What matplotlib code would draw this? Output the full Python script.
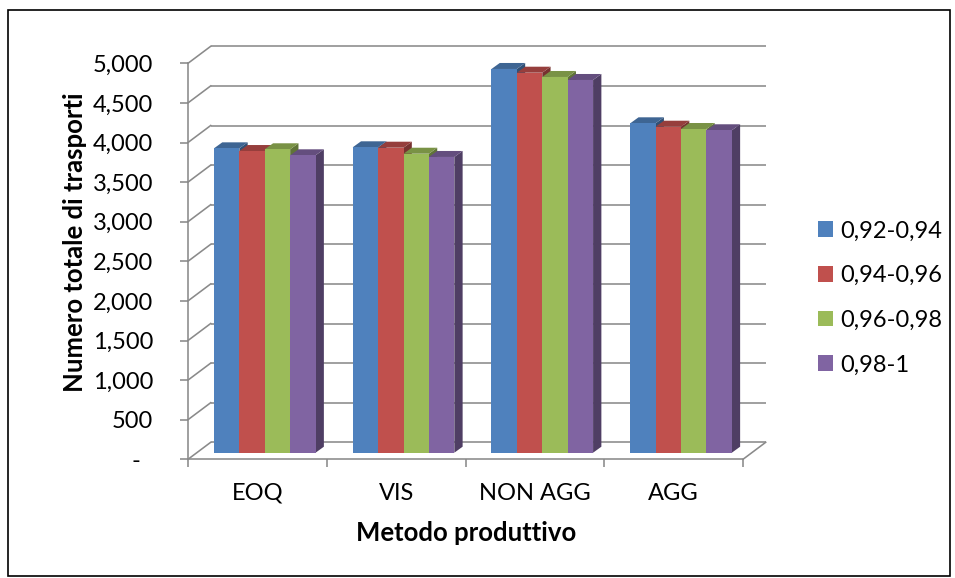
import matplotlib
matplotlib.use("Agg")
import matplotlib.pyplot as plt
from matplotlib.patches import Polygon, Rectangle, Patch
from matplotlib.ticker import FixedLocator, FuncFormatter
import numpy as np

# ---- data -------------------------------------------------------------
categories = ["EOQ", "VIS", "NON AGG", "AGG"]
series_names = ["0,92-0,94", "0,94-0,96", "0,96-0,98", "0,98-1"]
s_092_094 = [3843, 3856, 4845, 4159]
s_094_096 = [3809, 3851, 4798, 4116]
s_096_098 = [3831, 3775, 4744, 4087]
s_098_1 = [3755, 3734, 4706, 4071]
series_values = [s_092_094, s_094_096, s_096_098, s_098_1]
y_ticks = list(range(0, 5001, 500))

colors = ["#4F81BD", "#C0504D", "#9BBB59", "#8064A2"]

# ---- styling ----------------------------------------------------------
FONT = ["Lato", "DejaVu Sans"]
plt.rcParams["font.family"] = FONT
FS = 17
FS_TITLE = 18.5
GRID = "#8A8A8A"
GLW = 1.15

W, H = 955, 578
fig = plt.figure(figsize=(W / 100, H / 100), dpi=100)

# front plane of the pseudo-3D box
x0, x1 = 188, 743
yb, yt = 459.3, 63.3
ax = fig.add_axes([x0 / W, 1 - yb / H, (x1 - x0) / W, (yb - yt) / H])
ax.set_xlim(-0.5, len(categories) - 0.5)
ax.set_ylim(0, 5000)

px_x = (x1 - x0) / len(categories)   # pixels per category unit
px_v = (yb - yt) / 5000              # pixels per value unit

# depth of the back wall and of the columns, in data units
WALL_DX, WALL_DV = 22.7 / px_x, 17.0 / px_v
BAR_DX, BAR_DV = 7.4 / px_x, 6.6 / px_v
DEP_DX, DEP_DV = 8.3 / px_x, 6.0 / px_v
BAR_W = 25.4 / px_x


def shade(c, f):
    rgb = np.array(matplotlib.colors.to_rgb(c))
    return tuple(rgb * f)


# back wall gridlines and side-wall diagonals
xl, xr = -0.5, len(categories) - 0.5
for v in y_ticks:
    ax.plot([xl + WALL_DX, xr + WALL_DX], [v + WALL_DV, v + WALL_DV],
            color=GRID, lw=GLW, zorder=1, clip_on=False, solid_capstyle="butt")
    ax.plot([xl, xl + WALL_DX], [v, v + WALL_DV],
            color=GRID, lw=GLW, zorder=1, clip_on=False)
# right floor edge
ax.plot([xr, xr + WALL_DX], [0, WALL_DV], color=GRID, lw=GLW, zorder=1, clip_on=False)

# columns
n = len(series_values)
for ci in range(len(categories)):
    for si in range(n):
        val = series_values[si][ci]
        left = ci + BAR_DX + (si - n / 2) * BAR_W
        right = left + BAR_W
        base = BAR_DV
        top = val + BAR_DV
        c = colors[si]
        z = 3 + ci * 10 + si
        side = Polygon([(right, base), (right + DEP_DX, base + DEP_DV),
                        (right + DEP_DX, top + DEP_DV), (right, top)],
                       closed=True, facecolor=shade(c, 0.62), edgecolor="none",
                       zorder=z, clip_on=False)
        cap = Polygon([(left, top), (right, top), (right + DEP_DX, top + DEP_DV),
                       (left + DEP_DX, top + DEP_DV)],
                      closed=True, facecolor=shade(c, 0.78), edgecolor="none",
                      zorder=z, clip_on=False)
        ax.add_patch(side)
        ax.add_patch(cap)
        ax.bar(left, val, width=BAR_W, bottom=base, align="edge", color=c,
               edgecolor="none", zorder=z + 0.5, clip_on=False)

# axes lines and ticks
for s in ["top", "right"]:
    ax.spines[s].set_visible(False)
for s in ["left", "bottom"]:
    ax.spines[s].set_color(GRID)
    ax.spines[s].set_linewidth(GLW)
    ax.spines[s].set_zorder(2)
ax.set_facecolor("none")

ax.yaxis.set_major_locator(FixedLocator(y_ticks))
ax.yaxis.set_major_formatter(FuncFormatter(lambda v, p: "-  " if v == 0 else f"{int(v):,}"))
ax.tick_params(axis="y", direction="out", length=6, width=GLW, color=GRID,
               labelsize=FS, pad=19)

ax.xaxis.set_major_locator(FixedLocator(np.arange(len(categories) + 1) - 0.5))
ax.xaxis.set_major_formatter(FuncFormatter(lambda v, p: ""))
ax.xaxis.set_minor_locator(FixedLocator(np.arange(len(categories))))
ax.xaxis.set_minor_formatter(FuncFormatter(lambda v, p: categories[int(round(v))]))
ax.tick_params(axis="x", which="major", direction="out", length=6, width=GLW, color=GRID)
ax.tick_params(axis="x", which="minor", length=0, labelsize=FS, pad=17)

# titles
fig.text(75 / W, 1 - 242 / H, "Numero totale di trasporti", rotation=90,
         ha="center", va="center", fontsize=FS_TITLE, fontweight="bold")
fig.text(466 / W, 1 - 533 / H, "Metodo produttivo",
         ha="center", va="center", fontsize=FS_TITLE, fontweight="bold")

# legend
handles = [Patch(facecolor=c, edgecolor="none") for c in colors]
fig.legend(handles, series_names, loc="center left",
           bbox_to_anchor=(818 / W, 1 - 298 / H), frameon=False,
           fontsize=FS, handlelength=0.65, handleheight=0.65,
           handletextpad=0.3, labelspacing=1.0, borderpad=0, borderaxespad=0)

# chart frame
fig.patches.append(Rectangle((8 / W, 1 - 576 / H), 942 / W, 566 / H,
                             transform=fig.transFigure, fill=False,
                             edgecolor="black", linewidth=1.2))

fig.savefig("out.png", dpi=100)
